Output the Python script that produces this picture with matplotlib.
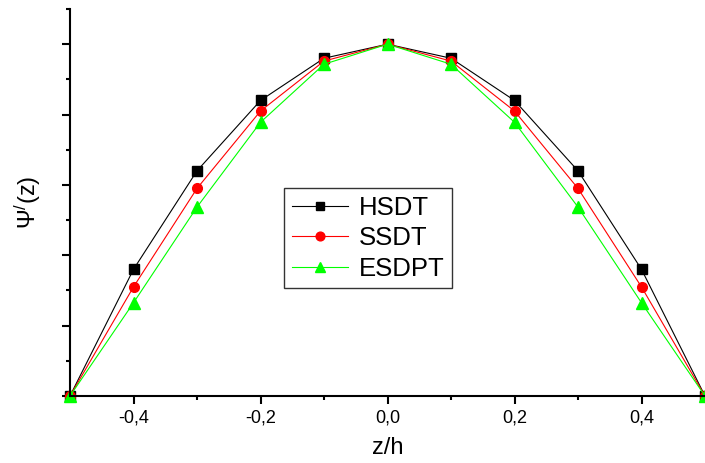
import matplotlib
matplotlib.use('Agg')
import matplotlib.pyplot as plt
from matplotlib.ticker import MultipleLocator, FixedLocator

plt.rcParams['font.family'] = ['Liberation Sans', 'DejaVu Sans']
plt.rcParams['mathtext.fontset'] = 'custom'
plt.rcParams['mathtext.rm'] = 'Liberation Sans'
plt.rcParams['mathtext.it'] = 'Liberation Sans:italic'

z = [-0.5, -0.4, -0.3, -0.2, -0.1, 0.0, 0.1, 0.2, 0.3, 0.4, 0.5]
hsdt = [0.0, 0.36, 0.64, 0.84, 0.96, 1.0, 0.96, 0.84, 0.64, 0.36, 0.0]
ssdt = [0.0, 0.31, 0.59, 0.81, 0.952, 1.0, 0.952, 0.81, 0.59, 0.31, 0.0]
esdpt = [0.0, 0.265, 0.537, 0.778, 0.943, 1.0, 0.943, 0.778, 0.537, 0.265, 0.0]
xticks = [-0.4, -0.2, 0.0, 0.2, 0.4]
xlabels = ['-0,4', '-0,2', '0,0', '0,2', '0,4']

fig = plt.figure(figsize=(7.05, 4.63), dpi=100)
ax = fig.add_axes([70/705, 67/463, 635/705, 387/463])

ax.plot(z, hsdt, '-s', color='black', lw=0.8, ms=6.5, label='HSDT', clip_on=False)
ax.plot(z, ssdt, '-o', color='#ff0000', lw=0.8, ms=7, label='SSDT', clip_on=False)
ax.plot(z, esdpt, '-^', color='#00ff00', lw=0.8, ms=8, label='ESDPT', clip_on=False)

ax.set_xlim(-0.5, 0.5)
ax.set_ylim(0, 1.1)
ax.set_xticks(xticks)
ax.set_xticklabels(xlabels)
ax.xaxis.set_minor_locator(FixedLocator([-0.5, -0.3, -0.1, 0.1, 0.3, 0.5]))
ax.yaxis.set_major_locator(MultipleLocator(0.2))
ax.yaxis.set_minor_locator(MultipleLocator(0.1))
ax.set_yticklabels([])

for s in ['top', 'right']:
    ax.spines[s].set_visible(False)
for s in ['left', 'bottom']:
    ax.spines[s].set_linewidth(1.5)
ax.tick_params(which='major', direction='out', length=6, width=1.5, labelsize=13)
ax.tick_params(which='minor', direction='out', length=3, width=1.5)

ax.set_xlabel('z/h', fontsize=17, labelpad=8)
ax.set_ylabel(r'$\mathrm{\Psi}^{/}$(z)', fontsize=17, labelpad=10)

leg = ax.legend(loc='upper left', bbox_to_anchor=((284-70)/635, (463-188-67)/387),
                fontsize=18.5, frameon=True, fancybox=False, edgecolor='black',
                handlelength=2.2, borderpad=0.3, labelspacing=0.25, handletextpad=0.4,
                borderaxespad=0, markerscale=0.9)
leg.get_frame().set_linewidth(1.0)

fig.savefig('out.png', dpi=100)
